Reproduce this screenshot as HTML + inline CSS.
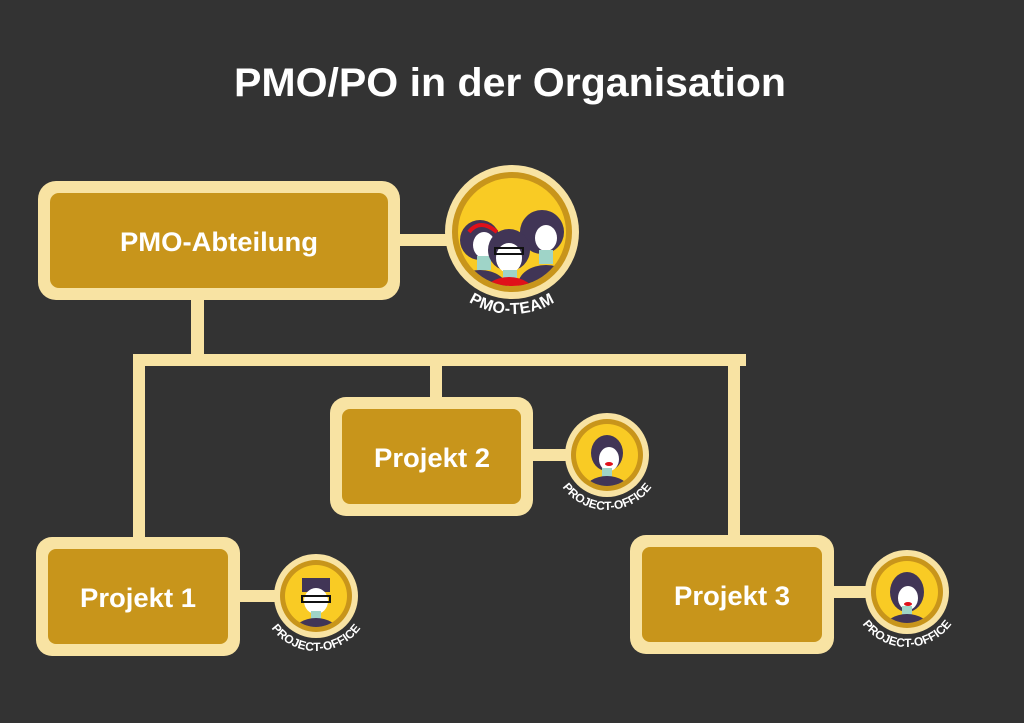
<!DOCTYPE html>
<html><head><meta charset="utf-8"><style>
html,body{margin:0;padding:0;background:#333333;}
svg{display:block}
text{font-family:"Liberation Sans",sans-serif;}
</style></head><body>
<svg width="1024" height="723" viewBox="0 0 1024 723" xmlns="http://www.w3.org/2000/svg">
<rect width="1024" height="723" fill="#333333"/>
<text x="510" y="96" fill="#fff" font-size="40" font-weight="bold" text-anchor="middle" textLength="552" lengthAdjust="spacingAndGlyphs">PMO/PO in der Organisation</text>
<g fill="#f8e3a3">
<rect x="191" y="290" width="13" height="72"/>
<rect x="133" y="354" width="613" height="12"/>
<rect x="133" y="354" width="12" height="190"/>
<rect x="430" y="354" width="12" height="50"/>
<rect x="728" y="354" width="12" height="190"/>
<rect x="395" y="234" width="60" height="12"/>
<rect x="528" y="449" width="45" height="12"/>
<rect x="235" y="590" width="45" height="12"/>
<rect x="830" y="586" width="45" height="12"/>
</g>
<g>
<rect x="38" y="181" width="362" height="119" rx="18" fill="#f8e3a3"/>
<rect x="50" y="193" width="338" height="95" rx="9" fill="#c8951b"/>
<text x="219" y="251" fill="#fff" font-size="27" font-weight="bold" text-anchor="middle" textLength="198" lengthAdjust="spacingAndGlyphs">PMO-Abteilung</text>
<rect x="330" y="397" width="203" height="119" rx="16" fill="#f8e3a3"/>
<rect x="342" y="409" width="179" height="95" rx="8" fill="#c8951b"/>
<text x="432" y="467" fill="#fff" font-size="27" font-weight="bold" text-anchor="middle" textLength="116" lengthAdjust="spacingAndGlyphs">Projekt 2</text>
<rect x="36" y="537" width="204" height="119" rx="16" fill="#f8e3a3"/>
<rect x="48" y="549" width="180" height="95" rx="8" fill="#c8951b"/>
<text x="138" y="607" fill="#fff" font-size="27" font-weight="bold" text-anchor="middle" textLength="116" lengthAdjust="spacingAndGlyphs">Projekt 1</text>
<rect x="630" y="535" width="204" height="119" rx="16" fill="#f8e3a3"/>
<rect x="642" y="547" width="180" height="95" rx="8" fill="#c8951b"/>
<text x="732" y="605" fill="#fff" font-size="27" font-weight="bold" text-anchor="middle" textLength="116" lengthAdjust="spacingAndGlyphs">Projekt 3</text>
</g>
<defs>
<clipPath id="c0"><circle cx="512" cy="232" r="54"/></clipPath>
<clipPath id="c1"><circle cx="607" cy="455" r="31"/></clipPath>
<clipPath id="c2"><circle cx="316" cy="596" r="31"/></clipPath>
<clipPath id="c3"><circle cx="907" cy="592" r="31"/></clipPath>
<path id="p0" d="M430,232 A82,82 0 0 0 594,232"/>
<path id="p1" d="M552,455 A55,55 0 0 0 662,455"/>
<path id="p2" d="M261,596 A55,55 0 0 0 371,596"/>
<path id="p3" d="M852,592 A55,55 0 0 0 962,592"/>
</defs>
<circle cx="512" cy="232" r="67" fill="#f8e3a3"/>
<circle cx="512" cy="232" r="60" fill="#c8951b"/>
<circle cx="512" cy="232" r="54" fill="#f9cb24"/>
<g clip-path="url(#c0)">
<circle cx="480" cy="240" r="20" fill="#413556"/>
<circle cx="542" cy="232" r="22" fill="#413556"/>
<ellipse cx="484" cy="245" rx="11" ry="13" fill="#fff"/>
<ellipse cx="546" cy="238" rx="11" ry="13" fill="#fff"/>
<path d="M469,232 Q480,218 497,232" stroke="#e0101a" stroke-width="4" fill="none"/>
<rect x="477" y="256" width="14" height="14" fill="#9fd4c8"/>
<rect x="539" y="250" width="14" height="14" fill="#9fd4c8"/>
<ellipse cx="480" cy="290" rx="28" ry="20" fill="#413556"/>
<ellipse cx="546" cy="285" rx="28" ry="20" fill="#413556"/>
<circle cx="509" cy="250" r="21" fill="#413556"/>
<ellipse cx="509" cy="258" rx="13" ry="15" fill="#fff"/>
<rect x="503" y="270" width="14" height="12" fill="#9fd4c8"/>
<ellipse cx="509" cy="295" rx="26" ry="18" fill="#e0101a"/>
<rect x="495" y="248" width="28" height="6" fill="none" stroke="#111" stroke-width="2"/>
</g>
<text fill="#fff" font-size="16" font-weight="bold" letter-spacing="0.5"><textPath href="#p0" startOffset="50%" text-anchor="middle">PMO-TEAM</textPath></text>
<g>
<circle cx="607" cy="455" r="42" fill="#f8e3a3"/><circle cx="607" cy="455" r="36" fill="#c8951b"/><circle cx="607" cy="455" r="31" fill="#f9cb24"/>
<g clip-path="url(#c1)"><ellipse cx="607" cy="453" rx="16" ry="18" fill="#413556"/><ellipse cx="609" cy="459" rx="10" ry="12" fill="#fff"/><rect x="602" y="468" width="10" height="10" fill="#9fd4c8"/><ellipse cx="607" cy="490" rx="22" ry="14" fill="#413556"/><ellipse cx="609" cy="464" rx="4" ry="2" fill="#e0101a"/></g>
<text fill="#fff" font-size="12" font-weight="bold"><textPath href="#p1" startOffset="50%" text-anchor="middle">PROJECT-OFFICE</textPath></text>
<circle cx="316" cy="596" r="42" fill="#f8e3a3"/><circle cx="316" cy="596" r="36" fill="#c8951b"/><circle cx="316" cy="596" r="31" fill="#f9cb24"/>
<g clip-path="url(#c2)"><rect x="302" y="578" width="28" height="14" fill="#413556"/><ellipse cx="316" cy="601" rx="12" ry="13" fill="#fff"/><rect x="302" y="596" width="28" height="6" fill="none" stroke="#111" stroke-width="2"/><rect x="311" y="611" width="10" height="8" fill="#9fd4c8"/><ellipse cx="316" cy="632" rx="22" ry="14" fill="#413556"/></g>
<text fill="#fff" font-size="12" font-weight="bold"><textPath href="#p2" startOffset="50%" text-anchor="middle">PROJECT-OFFICE</textPath></text>
<circle cx="907" cy="592" r="42" fill="#f8e3a3"/><circle cx="907" cy="592" r="36" fill="#c8951b"/><circle cx="907" cy="592" r="31" fill="#f9cb24"/>
<g clip-path="url(#c3)"><ellipse cx="907" cy="592" rx="17" ry="20" fill="#413556"/><ellipse cx="908" cy="598" rx="10" ry="12" fill="#fff"/><rect x="902" y="606" width="10" height="10" fill="#9fd4c8"/><ellipse cx="907" cy="628" rx="22" ry="14" fill="#413556"/><ellipse cx="908" cy="604" rx="4" ry="2" fill="#e0101a"/></g>
<text fill="#fff" font-size="12" font-weight="bold"><textPath href="#p3" startOffset="50%" text-anchor="middle">PROJECT-OFFICE</textPath></text>
</g>
</svg>
</body></html>
